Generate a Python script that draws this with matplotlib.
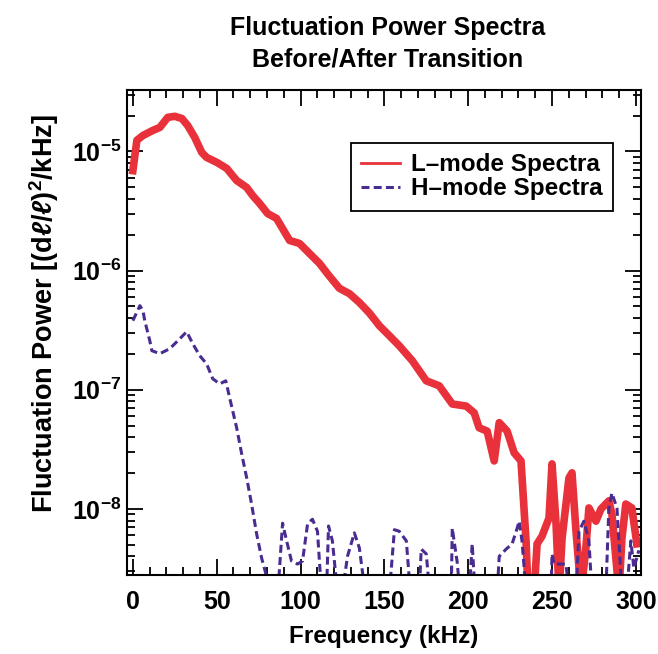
import matplotlib
matplotlib.use('Agg')
import matplotlib.pyplot as plt
from matplotlib.ticker import MultipleLocator, LogLocator, NullFormatter

plt.rcParams['font.family'] = ['Liberation Sans', 'DejaVu Sans']
plt.rcParams['font.weight'] = 'bold'
plt.rcParams['axes.labelweight'] = 'bold'
plt.rcParams['mathtext.fontset'] = 'custom'
plt.rcParams['mathtext.rm'] = 'Liberation Sans:bold'
plt.rcParams['mathtext.it'] = 'Liberation Sans:italic:bold'
plt.rcParams['mathtext.bf'] = 'Liberation Sans:bold'

# L-mode spectrum, kHz and power
l_freq = [0, 2.4, 6.0, 11.9, 16.1, 20.8, 25.0, 29.2, 32.7, 36.9, 41.1, 44.0,
          50.0, 56.0, 61.9, 67.9, 71.4, 75.6, 80.4, 85.7, 89.3, 93.5, 99.4,
          105.4, 111.3, 116.1, 123.2, 129.2, 135.1, 141.1, 147.0, 153.0, 158.9,
          166.7, 175.0, 182.7, 190.5, 198.8, 203.6, 206.5, 211.3, 215.5, 218.5,
          223.2, 227.4, 231.5, 234.5, 235.7, 239.3, 241.1, 244.0, 248.2, 250.0,
          252.4, 254.2, 256.0, 260.1, 261.9, 264.3, 267.3, 270.2, 272.0, 276.2,
          279.2, 283.9, 285.7, 289.9, 291.7, 294.0, 297.6, 300.6]
l_power = [6.9e-6, 1.24e-5, 1.36e-5, 1.50e-5, 1.59e-5, 1.93e-5, 1.97e-5, 1.89e-5,
           1.65e-5, 1.31e-5, 9.8e-6, 8.9e-6, 8.1e-6, 7.2e-6, 5.7e-6, 4.98e-6,
           4.27e-6, 3.66e-6, 3.01e-6, 2.74e-6, 2.25e-6, 1.79e-6, 1.69e-6, 1.39e-6,
           1.15e-6, 9.4e-7, 7.1e-7, 6.4e-7, 5.4e-7, 4.4e-7, 3.45e-7, 2.84e-7,
           2.34e-7, 1.75e-7, 1.19e-7, 1.08e-7, 7.6e-8, 7.3e-8, 6.4e-8, 4.8e-8,
           4.5e-8, 2.53e-8, 5.3e-8, 4.5e-8, 2.96e-8, 2.53e-8, 5.4e-9, 2.0e-9,
           2.0e-9, 5.1e-9, 5.9e-9, 8.4e-9, 2.39e-8, 7.5e-9, 2.0e-9, 5.7e-9,
           1.82e-8, 2.01e-8, 6.5e-9, 2.0e-9, 4.7e-9, 1.02e-8, 7.9e-9, 1.0e-8,
           1.17e-8, 9.1e-9, 2.0e-9, 5.7e-9, 1.10e-8, 1.02e-8, 5.1e-9]

# H-mode spectrum
h_freq = [0, 4.2, 6.0, 7.1, 10.1, 11.3, 16.1, 22.0, 26.8, 32.1, 35.7, 39.9,
          44.0, 47.6, 51.8, 55.4, 57.7, 61.9, 64.9, 67.9, 70.8, 73.8, 76.8,
          79.2, 82.0, 86.5, 89.3, 91.7, 94.6, 98.2, 101.2, 104.2, 107.1, 110.1,
          112.5, 115.5, 116.7, 119.0, 122.0, 125.0, 128.0, 132.1, 135.1, 138.5,
          153.0, 156.0, 158.9, 163.1, 165.5, 170.8, 172.0, 175.0, 177.0, 189.9,
          190.5, 193.5, 195.0, 200.6, 202.4, 204.0, 217.3, 218.5, 222.6, 226.2,
          229.2, 230.4, 232.1, 234.5, 249.4, 250.0, 251.2, 258.3, 260.1, 264.3,
          266.1, 269.0, 272.0, 273.8, 282.1, 283.9, 285.7, 288.7, 291.7, 294.6,
          297.0, 298.8, 301.8]
h_power = [3.8e-7, 5.08e-7, 4.61e-7, 3.8e-7, 2.58e-7, 2.13e-7, 2.01e-7, 2.21e-7,
           2.58e-7, 3.07e-7, 2.44e-7, 1.93e-7, 1.65e-7, 1.24e-7, 1.12e-7, 1.19e-7,
           8.6e-8, 4.8e-8, 2.9e-8, 1.82e-8, 1.10e-8, 6.2e-9, 3.87e-9, 2.9e-9,
           2.0e-9, 2.0e-9, 7.6e-9, 5.4e-9, 3.66e-9, 3.45e-9, 3.66e-9, 7.5e-9,
           8.2e-9, 6.5e-9, 2.0e-9, 2.0e-9, 7.2e-9, 5.4e-9, 2.0e-9, 2.0e-9,
           4.0e-9, 6.3e-9, 4.7e-9, 2.0e-9, 2.0e-9, 6.7e-9, 6.5e-9, 5.4e-9,
           2.0e-9, 2.0e-9, 4.6e-9, 4.2e-9, 2.0e-9, 2.0e-9, 6.9e-9, 3.52e-9,
           2.0e-9, 2.0e-9, 5.1e-9, 2.0e-9, 2.0e-9, 4.0e-9, 4.6e-9, 5.1e-9,
           6.9e-9, 7.9e-9, 5.4e-9, 2.0e-9, 2.0e-9, 4.2e-9, 3.45e-9, 3.45e-9,
           2.0e-9, 2.0e-9, 6.5e-9, 7.9e-9, 5.4e-9, 2.0e-9, 2.0e-9, 1.02e-8,
           1.36e-8, 1.02e-8, 2.0e-9, 2.0e-9, 5.4e-9, 3.19e-9, 4.5e-9]

red = '#e8313a'
purple = '#4a2c91'

fig = plt.figure(figsize=(6.58, 6.54), dpi=100)
ax = fig.add_axes([0.193, 0.121, 0.781, 0.741])

ax.plot(l_freq, l_power, color=red, lw=5.5, label='L\u2013mode Spectra')
ax.plot(h_freq, h_power, color=purple, lw=2.2, linestyle=(0, (2.6, 1.4)),
        label='H\u2013mode Spectra')

ax.set_yscale('log')
ax.set_xlim(-3.5, 303)
ax.set_ylim(2.8e-9, 3.26e-5)

ax.xaxis.set_major_locator(MultipleLocator(50))
ax.xaxis.set_minor_locator(MultipleLocator(10))
ax.yaxis.set_major_locator(LogLocator(base=10))
ax.yaxis.set_minor_locator(LogLocator(base=10, subs=range(2, 10)))
ax.yaxis.set_minor_formatter(NullFormatter())

ax.tick_params(which='both', direction='in', top=True, right=True,
               width=1.3, colors='black', labelsize=18)
ax.tick_params(which='major', length=11.5)
ax.tick_params(which='minor', length=6)
ax.tick_params(axis='x', pad=11)
ax.tick_params(axis='y', pad=4)
for s in ax.spines.values():
    s.set_linewidth(1.5)

ax.set_xlabel('Frequency (kHz)', fontsize=17.5)
ax.xaxis.set_label_coords(0.5, -0.103)
ax.set_ylabel(r'Fluctuation Power [(d$\ell$/$\ell$)$^2$/kHz]', fontsize=19.5)
ax.yaxis.set_label_coords(-0.128, 0.54)

fig.text(0.589, 0.9465, 'Fluctuation Power Spectra', ha='center',
         va='baseline', fontsize=18)
fig.text(0.589, 0.8976, 'Before/After Transition', ha='center',
         va='baseline', fontsize=18)

leg = ax.legend(loc='upper right', bbox_to_anchor=(0.946, 0.891),
                fontsize=17.5, frameon=True, fancybox=False, framealpha=1,
                edgecolor='black', handlelength=1.6, handletextpad=0.45,
                borderpad=0.42, labelspacing=0.05, borderaxespad=0)
leg.get_frame().set_linewidth(1.3)
leg.get_lines()[0].set_linewidth(2)
leg.get_lines()[1].set_linewidth(2.2)

fig.savefig('out.png', dpi=100)
